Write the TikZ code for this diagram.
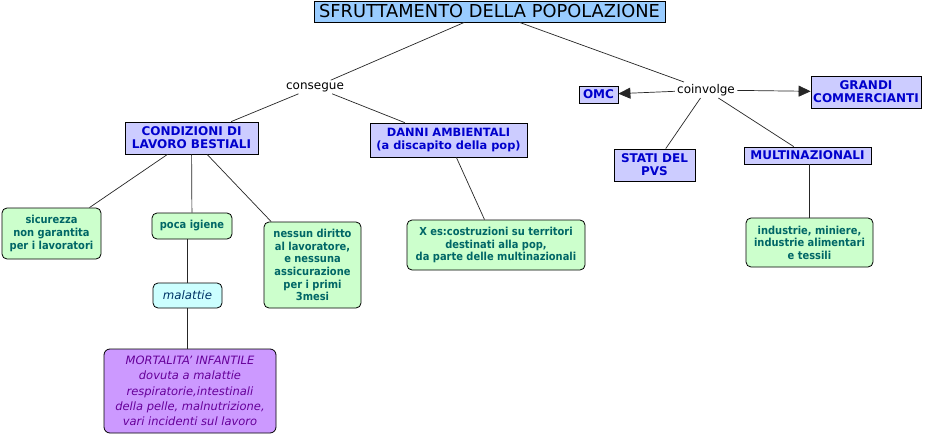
\documentclass[tikz,border=0pt]{standalone}
\usepackage{fontspec}
\setmainfont{DejaVu Sans}
\newfontfamily\condfont{DejaVu Sans Condensed}
\usetikzlibrary{arrows.meta}
\definecolor{bluefill}{RGB}{204,204,255}
\definecolor{bluetext}{RGB}{0,0,204}
\definecolor{greenfill}{RGB}{204,255,204}
\definecolor{greentext}{RGB}{0,102,102}
\definecolor{cyanfill}{RGB}{204,255,255}
\definecolor{cyantext}{RGB}{0,51,102}
\definecolor{purplefill}{RGB}{204,153,255}
\definecolor{purpletext}{RGB}{102,0,153}
\definecolor{titlefill}{RGB}{153,204,255}
\tikzset{
  x=1pt,y=-1pt,
  concept/.style={draw=black,line width=0.8pt,fill=bluefill,text=bluetext,font=\fontsize{12}{13}\selectfont\bfseries,align=center,inner sep=0pt},
  leaf/.style={draw=black,line width=0.8pt,fill=greenfill,text=greentext,rounded corners=5pt,font=\condfont\fontsize{11}{12.6}\selectfont\bfseries,align=center,inner sep=0pt},
  linkword/.style={font=\fontsize{12}{13}\selectfont,inner sep=2pt,fill=white},
  conn/.style={draw=black!85,line width=0.7pt},
  arr/.style={conn,-{Triangle[length=12pt,width=11pt]}}
}
\begin{document}
\begin{tikzpicture}
\useasboundingbox (0,0) rectangle (930,436);
\fill[white] (0,0) rectangle (930,436);
\node[draw=black,line width=0.8pt,fill=titlefill,inner sep=0pt,minimum width=351pt,minimum height=21pt,font=\fontsize{17.8}{18}\selectfont] (title) at (489.5,11.5) {SFRUTTAMENTO DELLA POPOLAZIONE};
\node[linkword] (cons) at (315,87) {consegue};
\node[linkword] (coin) at (706,90) {coinvolge};
\node[concept,minimum width=39pt,minimum height=17pt] (omc) at (598.5,94.5) {OMC};
\node[concept,minimum width=110pt,minimum height=32pt] (grandi) at (866,92) {GRANDI\\COMMERCIANTI};
\node[concept,minimum width=81pt,minimum height=32pt] (stati) at (654.5,165) {STATI DEL\\PVS};
\node[concept,minimum width=127pt,minimum height=17pt] (multi) at (807.5,155.5) {MULTINAZIONALI};
\node[leaf,minimum width=127pt,minimum height=49pt] (indu) at (809.5,242.5) {industrie, miniere,\\industrie alimentari\\e tessili};
\node[concept,minimum width=133pt,minimum height=32pt] (cond) at (191.5,138) {CONDIZIONI DI\\LAVORO BESTIALI};
\node[concept,minimum width=157pt,minimum height=34pt,font=\fontsize{11.4}{13.5}\selectfont\bfseries] (danni) at (448.5,140) {DANNI AMBIENTALI\\(a discapito della pop)};
\node[leaf,minimum width=99pt,minimum height=51pt] (sic) at (51.5,233.5) {sicurezza\\non garantita\\per i lavoratori};
\node[leaf,minimum width=80pt,minimum height=26pt] (poca) at (192,226) {poca igiene};
\node[leaf,minimum width=97pt,minimum height=86pt] (nessun) at (312.5,265) {nessun diritto\\al lavoratore,\\e nessuna\\assicurazione\\per i primi\\3mesi};
\node[leaf,minimum width=178pt,minimum height=50pt] (xes) at (496,245) {X es:costruzioni su territori\\destinati alla pop,\\da parte delle multinazionali};
\node[draw=black,line width=0.8pt,fill=cyanfill,text=cyantext,rounded corners=5pt,inner sep=0pt,minimum width=69pt,minimum height=25pt,font=\fontsize{11.8}{13}\selectfont\itshape] (mal) at (187.5,295.5) {malattie};
\node[draw=black,line width=0.8pt,fill=purplefill,text=purpletext,rounded corners=6pt,inner sep=0pt,minimum width=172pt,minimum height=84pt,align=center,font=\fontsize{11.5}{15.3}\selectfont\itshape] (mort) at (190,391) {MORTALITA' INFANTILE\\dovuta a malattie\\respiratorie,intestinali\\della pelle, malnutrizione,\\vari incidenti sul lavoro};
\draw[conn] (title) -- (cons);
\draw[conn] (title) -- (coin);
\draw[conn] (cons) -- (cond);
\draw[conn] (cons) -- (danni);
\draw[arr] (coin) -- (omc);
\draw[arr] (coin) -- (grandi);
\draw[conn] (coin) -- (stati);
\draw[conn] (coin) -- (multi);
\draw[conn] (indu.north |- multi.south) -- (indu);
\draw[conn] (cond) -- (sic);
\draw[conn] (cond) -- (poca);
\draw[conn] (cond) -- (nessun);
\draw[conn] (danni) -- (xes);
\draw[conn] (mal.north |- poca.south) -- (mal);
\draw[conn] (mort.north -| mal) -- (mal);
\end{tikzpicture}
\end{document}
